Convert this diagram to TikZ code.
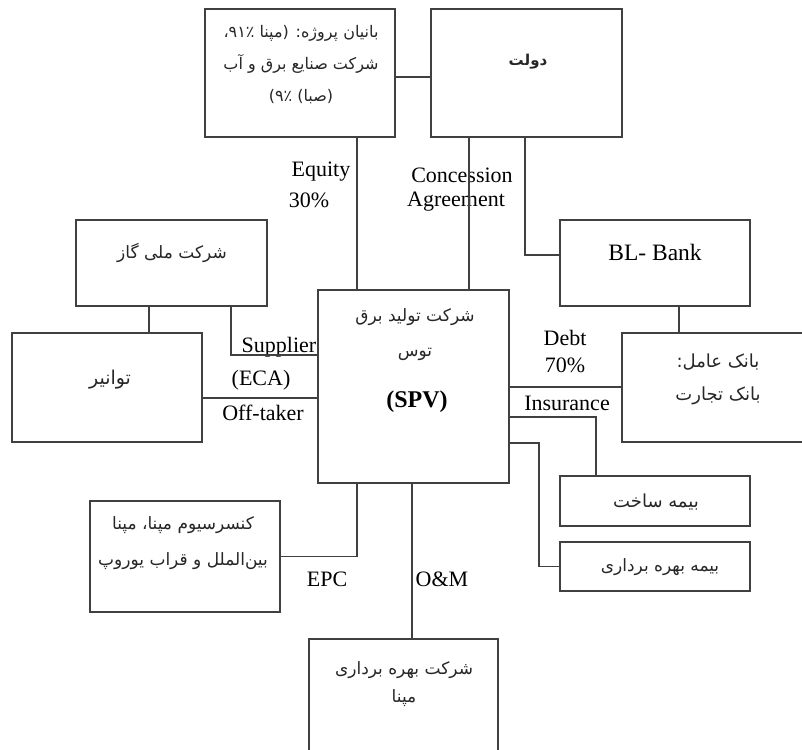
\documentclass[tikz,border=0pt]{standalone}
\usepackage{fontspec}
\setmainfont{Liberation Serif}
\newfontfamily\farsi[Script=Arabic]{DejaVu Sans}
\TeXXeTstate=1
\newcommand{\fa}[1]{{\farsi\beginR #1\endR}}

\tikzset{
  box/.style={draw=black!75,line width=1.3pt,rectangle,inner sep=0pt},
  lbl/.style={inner sep=0pt,font=\fontsize{22}{27}\selectfont},
  txt/.style={inner sep=0pt,align=center,text=black!85,font=\fontsize{17}{32}\selectfont},
  conn/.style={draw=black!75,line width=1.2pt}
}

\begin{document}
\begin{tikzpicture}[x=1pt,y=-1pt]
\useasboundingbox (0,0) rectangle (802,749);
\clip (0,0) rectangle (802,749);

% boxes
\node (spons) [box,minimum width=190pt,minimum height=128pt] at (300,73) {};
\node (gov) [box,minimum width=191pt,minimum height=128pt] at (526.5,73) {};
\node (gas) [box,minimum width=191pt,minimum height=86pt] at (171.5,263) {};
\node (tav) [box,minimum width=190pt,minimum height=109pt] at (107,387.5) {};
\node (spv) [box,minimum width=191pt,minimum height=193pt] at (413.5,386.5) {};
\node (bl) [box,minimum width=190pt,minimum height=86pt] at (655,263) {};
\node (agent) [box,minimum width=190pt,minimum height=109pt] at (717,387.5) {};
\node (cons) [box,minimum width=190pt,minimum height=50pt] at (655,501) {};
\node (oper) [box,minimum width=190pt,minimum height=49pt] at (655,566.5) {};
\node (epc) [box,minimum width=190pt,minimum height=111pt] at (185,556.5) {};
\node (om) [box,minimum width=189pt,minimum height=122pt] at (403.5,700) {};

% box texts
\node (spons-t) [txt,font=\fontsize{16}{32}\selectfont] at (301,65) {\fa{بانیان پروژه: (مپنا ۹۱٪،}\\\fa{شرکت صنایع برق و آب}\\\fa{(صبا) ۹٪)}};
\node (gov-t) [txt,font=\fontsize{15}{18}\selectfont\bfseries] at (528,62) {\fa{دولت}};
\node (gas-t) [txt] at (172,253) {\fa{شرکت ملی گاز}};
\node (tav-t) [txt,font=\fontsize{19}{22}\selectfont] at (110,380) {\fa{توانیر}};
\node (spv-t) [txt,font=\fontsize{17}{35}\selectfont] at (415,334.5) {\fa{شرکت تولید برق}\\\fa{توس}};
\node (spv-b) [lbl,font=\fontsize{24}{28}\selectfont\bfseries] at (417,402) {(SPV)};
\node (bl-t) [lbl,font=\fontsize{23.5}{28}\selectfont] at (655,252) {BL- Bank};
\node (agent-t) [txt,font=\fontsize{18}{33}\selectfont] at (718,379.5) {\fa{بانک عامل:}\\\fa{بانک تجارت}};
\node (cons-t) [txt,font=\fontsize{18}{22}\selectfont] at (656,502) {\fa{بیمه ساخت}};
\node (oper-t) [txt] at (660,567) {\fa{بیمه بهره برداری}};
\node (epc-t) [txt,font=\fontsize{17}{36}\selectfont] at (183,543) {\fa{کنسرسیوم مپنا، مپنا}\\\fa{بین‌الملل و قراب یوروپ}};
\node (om-t) [txt,font=\fontsize{17}{28}\selectfont] at (404,684) {\fa{شرکت بهره برداری}\\\fa{مپنا}};

% labels
\node (equity) [lbl] at (321,172) {Equity};
\node (eq30) [lbl] at (309,200) {30\%};
\node (conc) [lbl] at (462,175) {Concession};
\node (agree) [lbl] at (456,202) {Agreement};
\node (suppl) [lbl] at (279,347) {Supplier};
\node (eca) [lbl] at (261,380) {(ECA)};
\node (offt) [lbl] at (263,413) {Off-taker};
\node (debt) [lbl] at (565,338) {Debt};
\node (debt70) [lbl] at (565,365) {70\%};
\node (insur) [lbl] at (567,403) {Insurance};
\node (epc-l) [lbl] at (327,579) {EPC};
\node (om-l) [lbl] at (442,579) {O\&M};

% line positions
\coordinate (eqx) at (357,0);
\coordinate (cax) at (469,0);
\coordinate (bkx) at (525,0);
\coordinate (agx) at (679,0);
\coordinate (gtx) at (149,0);
\coordinate (spx) at (231,355);
\coordinate (oty) at (0,398);
\coordinate (dby) at (0,387);
\coordinate (in1) at (596,417);
\coordinate (in2) at (539,443);
\coordinate (omx) at (412,0);

% lines
\draw[conn] ([yshift=-4pt]spons.east) -- ([yshift=-4pt]gov.west);
\draw[conn] (spons.south -| eqx) -- (spv.north -| eqx);
\draw[conn] (gov.south -| cax) -- (spv.north -| cax);
\draw[conn] (gov.south -| bkx) |- ([yshift=8pt]bl.west);
\draw[conn] (bl.south -| agx) -- (agent.north -| agx);
\draw[conn] (gas.south -| gtx) -- (tav.north -| gtx);
\draw[conn] (gas.south -| spx) |- (spv.west |- spx);
\draw[conn] (tav.east |- oty) -- (spv.west |- oty);
\draw[conn] (spv.east |- dby) -- (agent.west |- dby);
\draw[conn,line width=1.6pt] (spv.east |- in1) -| (cons.north -| in1);
\draw[conn] (spv.east |- in2) -| (oper.west -| in2) -- (oper.west);
\draw[conn] (spv.south -| eqx) |- (epc.east);
\draw[conn] (spv.south -| omx) -- (om.north -| omx);
\end{tikzpicture}
\end{document}
